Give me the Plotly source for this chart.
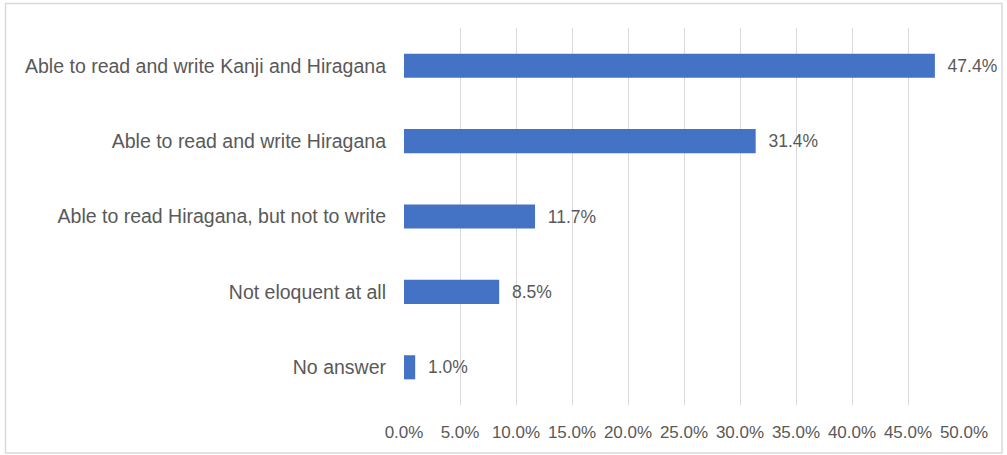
import plotly.graph_objects as go

categories = [
    "Able to read and write Kanji and Hiragana",
    "Able to read and write Hiragana",
    "Able to read Hiragana, but not to write",
    "Not eloquent at all",
    "No answer",
]
values = [47.4, 31.4, 11.7, 8.5, 1.0]
tick_vals = [0, 5, 10, 15, 20, 25, 30, 35, 40, 45, 50]
tick_text = ["0.0%", "5.0%", "10.0%", "15.0%", "20.0%", "25.0%", "30.0%", "35.0%", "40.0%", "45.0%", "50.0%"]

L, R, T, B = 404, 43, 28, 50
W, H = 1007, 455
pw, ph = W - L - R, H - T - B

fig = go.Figure()
fig.add_trace(go.Bar(
    y=categories[::-1],
    x=values[::-1],
    orientation="h",
    marker=dict(color="#4472C4", line=dict(width=0)),
    width=0.32,
    text=["  %.1f%%" % v for v in values[::-1]],
    textposition="outside",
    constraintext="none",
    cliponaxis=False,
    textfont=dict(family="Liberation Sans, Arial, sans-serif", size=17.5, color="#595959"),
    hoverinfo="skip",
))

def px_x(p):
    return (p - L) / pw

def px_y(p):
    return (H - B - p) / ph

fig.update_layout(
    width=W, height=H,
    margin=dict(l=L, r=R, t=T, b=B),
    paper_bgcolor="white",
    plot_bgcolor="white",
    showlegend=False,
    xaxis=dict(
        range=[0, 50],
        tickvals=tick_vals,
        ticktext=tick_text,
        showgrid=True,
        gridcolor="#D9D9D9",
        gridwidth=1,
        zeroline=False,
        showline=False,
        ticks="",
        tickfont=dict(family="Liberation Sans, Arial, sans-serif", size=17, color="#595959"),
        ticklabelstandoff=15,
        fixedrange=True,
    ),
    yaxis=dict(
        showgrid=False,
        zeroline=False,
        showline=False,
        ticks="",
        ticklabelstandoff=17,
        tickfont=dict(family="Liberation Sans, Arial, sans-serif", size=19.5, color="#595959"),
        fixedrange=True,
    ),
    shapes=[dict(
        type="rect", xref="paper", yref="paper",
        x0=px_x(5.5), x1=px_x(1002), y0=px_y(453), y1=px_y(3.5),
        line=dict(color="#D9D9D9", width=1.5), fillcolor="rgba(0,0,0,0)", layer="below",
    )],
)

fig.write_html(
    "out.html",
    config={"displayModeBar": False},
    post_script="document.body.style.margin='0';document.body.style.overflow='hidden';",
)
